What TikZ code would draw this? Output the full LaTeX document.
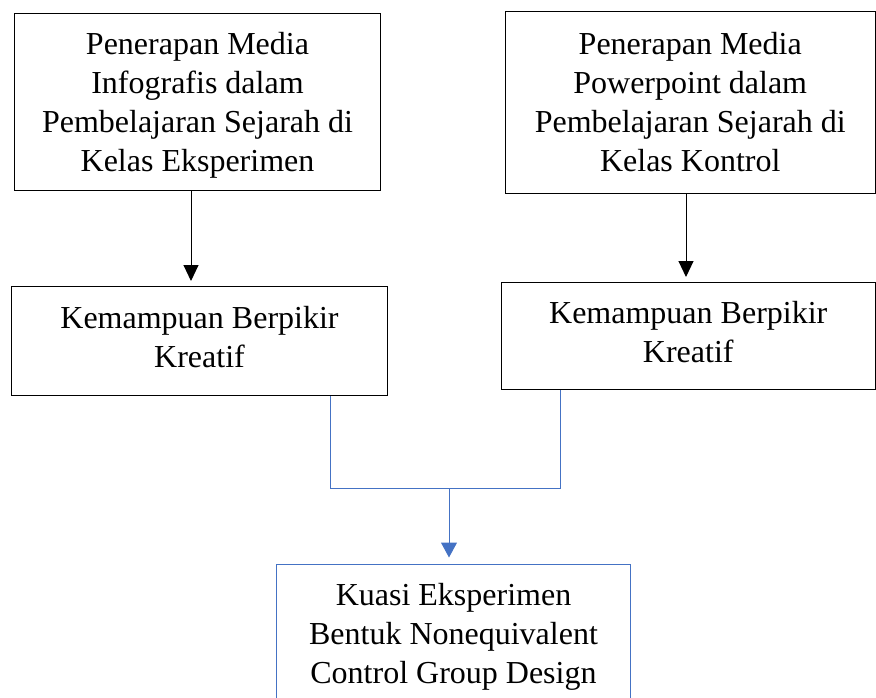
\documentclass[tikz,border=0pt]{standalone}
\usepackage{fontspec}
\setmainfont{Liberation Serif}
\usetikzlibrary{arrows.meta}
\definecolor{wordblue}{RGB}{68,114,196}
\newcommand{\upstrut}[1]{\rule{0pt}{#1}}
\newcommand{\downstrut}[1]{\rule[-#1]{0pt}{#1}}
\tikzset{
  box/.style={draw=black, line width=1pt, anchor=north west, align=center, inner sep=0pt,
    font=\fontsize{32}{39}\selectfont},
  bluebox/.style={box, draw=wordblue},
  blackarrow/.style={draw=black, line width=1pt, -{Triangle[length=16pt,width=15pt]}, shorten >=5pt},
  blueline/.style={draw=wordblue, line width=1pt},
  bluearrow/.style={blueline, -{Triangle[length=15pt,width=16pt]}, shorten >=6pt}
}
\begin{document}
\begin{tikzpicture}[x=1pt,y=1pt]
\useasboundingbox (0,0) rectangle (876,-697);
\node[box, minimum width=366pt, minimum height=177pt] (b1) at (14,-13)
  {\upstrut{28pt}Penerapan Media\\Infografis dalam\\Pembelajaran Sejarah di\\Kelas Eksperimen};
\node[box, minimum width=369.5pt, minimum height=182pt] (b2) at (505,-11)
  {Penerapan Media\\Powerpoint dalam\\Pembelajaran Sejarah di\\Kelas Kontrol};
\node[box, minimum width=376pt, minimum height=109pt] (b3) at (11,-286)
  {Kemampuan Berpikir\\Kreatif\downstrut{8pt}};
\node[box, minimum width=373.5pt, minimum height=107pt] (b4) at (501,-282)
  {Kemampuan Berpikir\\Kreatif\downstrut{8pt}};
\node[bluebox, minimum width=354pt, minimum height=146pt] (b5) at (276,-563.5)
  {Kuasi Eksperimen\\Bentuk Nonequivalent\\Control Group Design};
\coordinate (xa) at (191,0);
\coordinate (xb) at (686,0);
\coordinate (xl) at (330,0);
\coordinate (xr) at (560,0);
\coordinate (j) at (449,-488);
\draw[blackarrow] (b1.south -| xa) -- (b3.north -| xa);
\draw[blackarrow] (b2.south -| xb) -- (b4.north -| xb);
\draw[blueline] (b3.south -| xl) |- (j);
\draw[blueline] (b4.south -| xr) |- (j);
\draw[bluearrow] (j) -- (b5.north -| j);
\end{tikzpicture}
\end{document}
